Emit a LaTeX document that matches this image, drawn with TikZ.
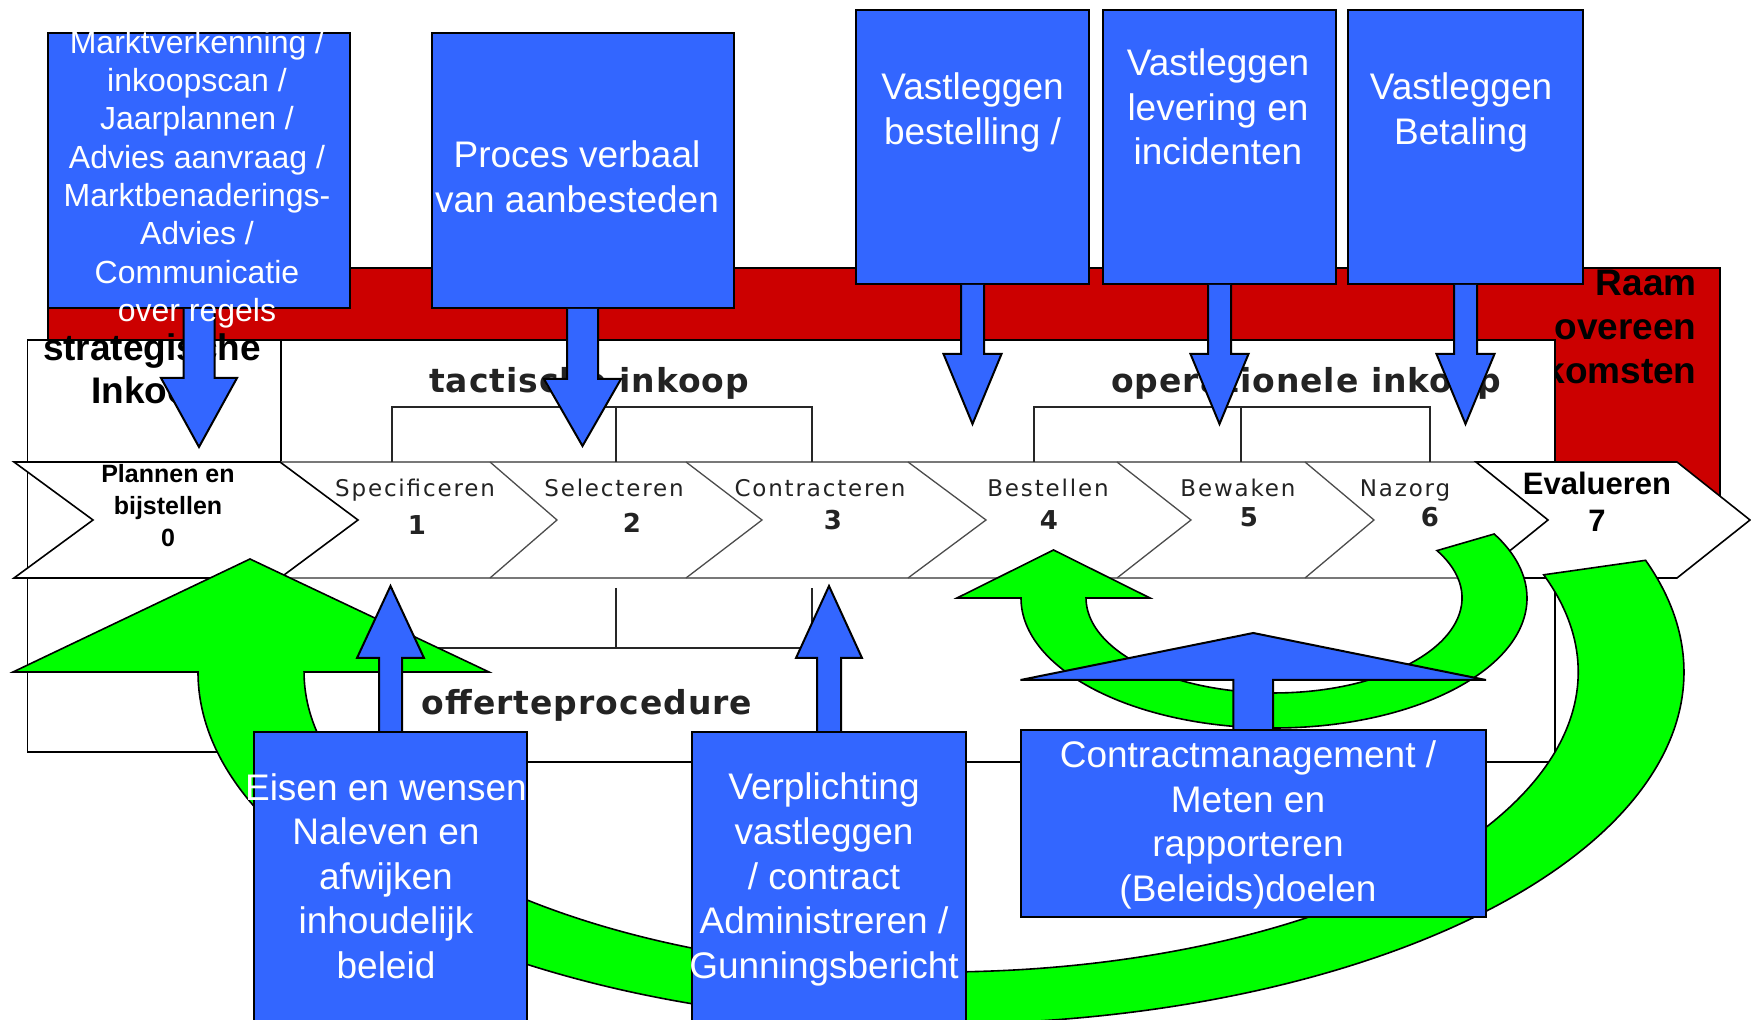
\documentclass[tikz,border=0pt]{standalone}
\usepackage{fontspec}
\setmainfont{Liberation Sans}
\newfontfamily\rasterfont[LetterSpace=8]{DejaVu Sans}
\newfontfamily\rasterhead[LetterSpace=3]{DejaVu Sans}
\newfontfamily\rasterdigits{DejaVu Sans}
\usetikzlibrary{calc}
\definecolor{pblue}{RGB}{51,102,255}
\definecolor{pgreen}{RGB}{0,255,0}
\definecolor{pred}{RGB}{204,0,0}
\definecolor{bandgrey}{RGB}{120,120,120}
\definecolor{rastertext}{RGB}{35,35,35}
% block arrow leaving a named box: #1 anchor, #2 head offset, #3 tip offset, #4 half shaft, #5 half head
\newcommand\blockarrow[5]{%
  \path[fill=pblue] ($#1+(-#4,0)$) -- ($#1+(-#4,#2)$) -- ($#1+(-#5,#2)$) -- ($#1+(0,#3)$)
     -- ($#1+(#5,#2)$) -- ($#1+(#4,#2)$) -- ($#1+(#4,0)$) -- cycle;
  \draw[blueedge] ($#1+(-#4,0)$) -- ($#1+(-#4,#2)$) -- ($#1+(-#5,#2)$) -- ($#1+(0,#3)$)
     -- ($#1+(#5,#2)$) -- ($#1+(#4,#2)$) -- ($#1+(#4,0)$);}
\begin{document}
\begin{tikzpicture}[x=0.5pt,y=-0.5pt,
  outl/.style={draw=black,line width=0.8pt},
  redshape/.style={fill=pred,outl},
  whitebox/.style={fill=white,outl},
  bluebox/.style={rectangle,fill=pblue,draw=black,line width=1pt,inner sep=0pt},
  blueedge/.style={draw=black,line width=1pt,line join=miter},
  greenshape/.style={fill=pgreen,draw=black,line width=0.8pt,line join=miter},
  chevshape/.style={fill=white,outl},
  bluetext/.style={text=white,align=center,inner sep=0pt,font=\fontsize{18.5}{22.3}\selectfont},
  smalltext/.style={text=white,align=center,inner sep=0pt,font=\fontsize{16}{19.15}\selectfont},
  boldlabel/.style={text=black,align=center,inner sep=0pt,font=\bfseries\fontsize{18.5}{21.5}\selectfont},
  steplabel/.style={text=rastertext,inner sep=0pt,anchor=base,font=\rasterfont\fontsize{11.5}{14}\selectfont},
  stepnum/.style={text=rastertext,inner sep=0pt,anchor=base,font=\rasterdigits\bfseries\fontsize{13}{15}\selectfont},
  phaselabel/.style={text=rastertext,inner sep=0pt,anchor=base,font=\rasterhead\bfseries\fontsize{16.5}{19}\selectfont},
  bandline/.style={draw=bandgrey,line width=1.4pt},
  stepsep/.style={draw=black!70,line width=0.65pt},
  bracketline/.style={draw=black!85,line width=0.8pt},
]
\useasboundingbox (0,0) rectangle (1751,1020);
\clip (0,0) rectangle (1751,1020);

% red frame (raamovereenkomsten)
\path[redshape] (48,268) -- (1720,268) -- (1720,520) -- (1555,520) -- (1555,340) -- (48,340) -- cycle;
\node[boldlabel,align=right,anchor=east,font=\bfseries\fontsize{18.5}{22}\selectfont] (raam) at (1697,327) {Raam\\overeen\\komsten};

% white boxes
\path[whitebox] (27.5,340) rectangle (281,752);
\path[whitebox] (281,340) rectangle (1555,762);

% process band
\draw[bandline] (281,462) -- (1480,462);
\draw[bandline] (281,578) -- (1480,578);
\foreach \xt/\xp in {490/557,686/762,908/986,1117/1191,1305/1374}
  \draw[stepsep] (\xt,462) -- (\xp,520) -- (\xt,578);

% brackets
\draw[bracketline] (392,462) -- (392,407) -- (812,407) -- (812,462) (616,407) -- (616,462);
\draw[bracketline] (1034,462) -- (1034,407) -- (1430,407) -- (1430,462) (1241,407) -- (1241,462);
\draw[bracketline] (392,588) -- (392,648) -- (812,648) -- (812,588) (616,588) -- (616,648);

% raster labels
\node[phaselabel] (tact) at (589,393) {tactische inkoop};
\node[phaselabel] (oper) at (1306,393) {operationele inkoop};
\node[phaselabel] (offerte) at (587,715) {offerteprocedure};
\node[steplabel] (s1) at (415,497) {Specificeren};
\node[stepnum] (n1) at (417,535) {1};
\node[steplabel] (s2) at (614,497) {Selecteren};
\node[stepnum] (n2) at (632,533) {2};
\node[steplabel] (s3) at (820,497) {Contracteren};
\node[stepnum] (n3) at (833,530) {3};
\node[steplabel] (s4) at (1048,497) {Bestellen};
\node[stepnum] (n4) at (1049,530) {4};
\node[steplabel] (s5) at (1238,497) {Bewaken};
\node[stepnum] (n5) at (1249,527) {5};
\node[steplabel] (s6) at (1405,497) {Nazorg};
\node[stepnum] (n6) at (1430,527) {6};

\node[boldlabel] (strat) at (152,372) {strategische\\Inkoop};

% chevrons 0 and 7
\path[chevshape] (14,462) -- (280,462) -- (358,520) -- (280,578) -- (14,578) -- (93,520) -- cycle;
\node[align=center,inner sep=0pt,font=\bfseries\fontsize{12.5}{16}\selectfont] (c0) at (168,506) {Plannen en\\bijstellen\\0};
\path[chevshape] (1476,462) -- (1677,462) -- (1750,520) -- (1677,578) -- (1476,578) -- (1548,520) -- cycle;
\node[align=center,inner sep=0pt,font=\bfseries\fontsize{15.5}{18.5}\selectfont] (c7) at (1597,501.5) {Evalueren\\7};

% green feedback arrows
\path[greenshape] (198,672) arc[start angle=180,end angle=-18.5,x radius=743,y radius=352]
  -- (1543.7,574.8) arc[start angle=-18.9,end angle=180,x radius=637,y radius=300]
  -- (489,672) -- (250,559) -- (13,672) -- cycle;
\path[greenshape] (1021,598) arc[start angle=180,end angle=-29.5,x radius=253,y radius=130]
  -- (1437,550.6) arc[start angle=-29.9,end angle=180,x radius=188,y radius=95]
  -- (1150,598) -- (1053.5,550) -- (957,598) -- cycle;

% blue boxes
\node[bluebox,minimum width=151pt,minimum height=137.5pt] (mk) at (199,170.5) {};
\node[bluebox,minimum width=151pt,minimum height=137.5pt] (pv) at (582.5,170.5) {};
\node[bluebox,minimum width=116.5pt,minimum height=137pt] (vb) at (972.5,147) {};
\node[bluebox,minimum width=116.5pt,minimum height=137pt] (vl) at (1219.5,147) {};
\node[bluebox,minimum width=117.5pt,minimum height=137pt] (vt) at (1465.5,147) {};
\node[bluebox,minimum width=136.5pt,minimum height=149pt] (ew) at (390.5,881) {};
\node[bluebox,minimum width=137pt,minimum height=149pt] (vp) at (829,881) {};
\node[bluebox,minimum width=232.75pt,minimum height=93.5pt] (cm) at (1253.25,823.5) {};

% blue arrows
\blockarrow{(mk.south)}{69}{138}{15.5}{38}
\blockarrow{(pv.south)}{70}{137}{15.5}{38.5}
\blockarrow{(vb.south)}{69}{139}{11.5}{29}
\blockarrow{(vl.south)}{69}{139}{11.5}{29}
\blockarrow{(vt.south)}{69}{139}{11.5}{29}
\blockarrow{(ew.north)}{-73}{-145}{11.5}{33.5}
\blockarrow{(vp.north)}{-73}{-145}{12}{33}
\blockarrow{(cm.north)}{-49}{-96}{19.8}{232.75}

% box texts
\node[smalltext] (mkt) at (197,179) {Marktverkenning /\\inkoopscan /\\Jaarplannen /\\Advies aanvraag /\\Marktbenaderings-\\Advies /\\Communicatie\\over regels};
\node[bluetext] (pvt) at (577,176.5) {Proces verbaal\\van aanbesteden};
\node[bluetext] (vbt) at (972.5,112.5) {Vastleggen\\bestelling /};
\node[bluetext] (vlt) at (1218,107) {Vastleggen\\levering en\\incidenten};
\node[bluetext] (vtt) at (1461,112.5) {Vastleggen\\Betaling};
\node[bluetext] (ewt) at (386,876) {Eisen en wensen\\Naleven en\\afwijken\\inhoudelijk\\beleid};
\node[bluetext] (vpt) at (824,879.5) {Verplichting\\vastleggen\\/ contract\\Administreren /\\Gunningsbericht};
\node[bluetext] (cmt) at (1248,825) {Contractmanagement /\\Meten en\\rapporteren\\(Beleids)doelen};
\end{tikzpicture}
\end{document}
